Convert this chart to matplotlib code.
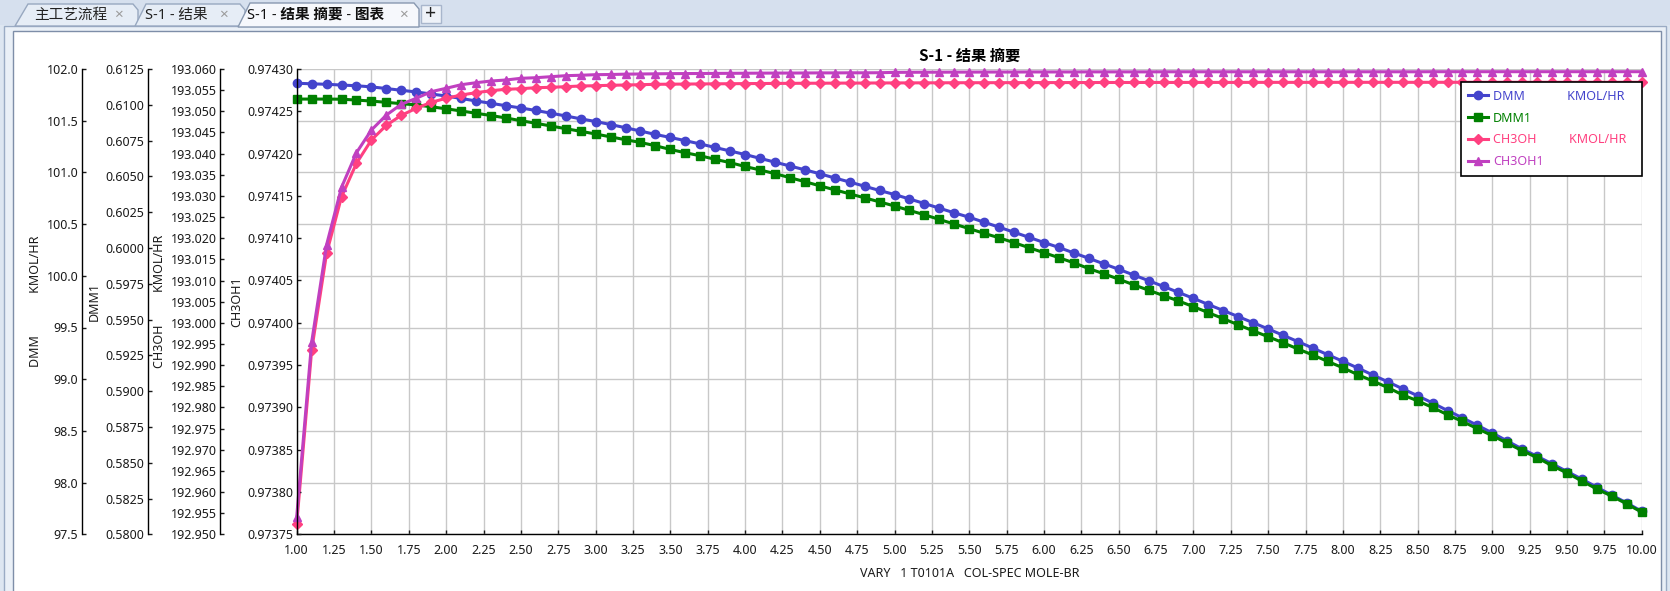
import numpy as np
import matplotlib
matplotlib.use('Agg')
import matplotlib.pyplot as plt
from matplotlib.patches import Rectangle, Polygon
from matplotlib.ticker import FormatStrFormatter

plt.rcParams['font.family'] = ['Noto Sans', 'Noto Sans CJK SC', 'DejaVu Sans']

W, H = 1670, 591

# ---- data ----
vary = np.round(np.linspace(1.0, 10.0, 91), 1)

dmm = [101.862, 101.857, 101.852, 101.845, 101.838, 101.827, 101.811, 101.794, 101.778, 101.758, 101.739,
       101.715, 101.691, 101.668, 101.645, 101.623, 101.599, 101.573, 101.546, 101.518, 101.492,
       101.463, 101.432, 101.400, 101.367, 101.338, 101.307, 101.275, 101.241, 101.207, 101.173,
       101.136, 101.099, 101.062, 101.025, 100.987, 100.946, 100.907, 100.866, 100.825, 100.786,
       100.743, 100.699, 100.654, 100.609, 100.566, 100.518, 100.470, 100.421, 100.372, 100.322,
       100.274, 100.221, 100.169, 100.116, 100.063, 100.008, 99.953, 99.897, 99.839, 99.782,
       99.722, 99.664, 99.605, 99.546, 99.486, 99.425, 99.363, 99.300, 99.236, 99.173,
       99.108, 99.041, 98.975, 98.907, 98.840, 98.770, 98.697, 98.626, 98.554, 98.480,
       98.402, 98.325, 98.254, 98.182, 98.107, 98.033, 97.955, 97.878, 97.803, 97.722]

dmm1 = [0.61040, 0.61040, 0.61040, 0.61039, 0.61033, 0.61026, 0.61017, 0.61008, 0.60999, 0.60986, 0.60972,
        0.60957, 0.60941, 0.60925, 0.60908, 0.60889, 0.60871, 0.60852, 0.60833, 0.60815, 0.60796,
        0.60776, 0.60756, 0.60737, 0.60714, 0.60688, 0.60665, 0.60644, 0.60619, 0.60596, 0.60569,
        0.60545, 0.60519, 0.60491, 0.60463, 0.60434, 0.60406, 0.60378, 0.60350, 0.60322, 0.60293,
        0.60262, 0.60232, 0.60199, 0.60167, 0.60135, 0.60102, 0.60071, 0.60037, 0.60002, 0.59967,
        0.59932, 0.59896, 0.59856, 0.59820, 0.59782, 0.59743, 0.59705, 0.59667, 0.59630, 0.59590,
        0.59548, 0.59506, 0.59463, 0.59421, 0.59380, 0.59338, 0.59294, 0.59252, 0.59207, 0.59163,
        0.59115, 0.59071, 0.59025, 0.58974, 0.58932, 0.58886, 0.58835, 0.58788, 0.58738, 0.58689,
        0.58636, 0.58584, 0.58535, 0.58479, 0.58428, 0.58372, 0.58316, 0.58266, 0.58212, 0.58154]

ch3oh = [192.95243, 192.99350, 193.01643, 193.02981, 193.03771, 193.04322, 193.04669, 193.04905, 193.05071, 193.05213, 193.05307,
         193.05385, 193.05440, 193.05487, 193.05520, 193.05534, 193.05558, 193.05567, 193.05582, 193.05598, 193.05605,
         193.05615, 193.05622, 193.05629, 193.05638, 193.05641, 193.05644, 193.05647, 193.05650, 193.05652, 193.05655,
         193.05657, 193.05659, 193.05661, 193.05663, 193.05664, 193.05666, 193.05667, 193.05668, 193.05670, 193.05671,
         193.05672, 193.05673, 193.05674, 193.05675, 193.05676, 193.05676, 193.05677, 193.05678, 193.05678, 193.05679,
         193.05679, 193.05680, 193.05680, 193.05681, 193.05681, 193.05681, 193.05682, 193.05682, 193.05682, 193.05683,
         193.05683, 193.05683, 193.05683, 193.05684, 193.05684, 193.05684, 193.05684, 193.05684, 193.05684, 193.05685,
         193.05685, 193.05685, 193.05685, 193.05685, 193.05685, 193.05685, 193.05686, 193.05686, 193.05686, 193.05686,
         193.05686, 193.05686, 193.05686, 193.05686, 193.05686, 193.05686, 193.05686, 193.05686, 193.05686, 193.05686]

ch3oh1 = [0.9737708, 0.9739770, 0.9740923, 0.9741602, 0.9742011, 0.9742279, 0.9742456, 0.9742583, 0.9742654, 0.9742732, 0.9742772,
          0.9742814, 0.9742838, 0.9742858, 0.9742870, 0.9742890, 0.9742897, 0.9742909, 0.9742921, 0.9742926, 0.9742933,
          0.9742935, 0.9742939, 0.9742941, 0.9742943, 0.9742945, 0.9742946, 0.9742947, 0.9742948, 0.9742949, 0.9742950,
          0.9742951, 0.9742952, 0.9742952, 0.9742953, 0.9742954, 0.9742954, 0.9742955, 0.9742955, 0.9742956, 0.9742960,
          0.9742961, 0.9742962, 0.9742962, 0.9742963, 0.9742963, 0.9742964, 0.9742964, 0.9742964, 0.9742965, 0.9742965,
          0.9742965, 0.9742965, 0.9742966, 0.9742966, 0.9742966, 0.9742966, 0.9742966, 0.9742967, 0.9742967, 0.9742967,
          0.9742967, 0.9742967, 0.9742967, 0.9742967, 0.9742967, 0.9742967, 0.9742967, 0.9742967, 0.9742967, 0.9742967,
          0.9742967, 0.9742967, 0.9742967, 0.9742967, 0.9742967, 0.9742968, 0.9742968, 0.9742968, 0.9742968, 0.9742968,
          0.9742968, 0.9742968, 0.9742968, 0.9742968, 0.9742968, 0.9742968, 0.9742968, 0.9742968, 0.9742968, 0.9742968]

# axis ranges / tick counts
dmm_range, dmm_n = (97.5, 102.0), 9
dmm1_range, dmm1_n = (0.58, 0.6125), 13
ch3oh_range, ch3oh_n = (192.95, 193.06), 22
ch3oh1_range, ch3oh1_n = (0.97375, 0.97430), 11

tabs = ['主工艺流程', 'S-1 - 结果', 'S-1 - 结果 摘要 - 图表']

fig = plt.figure(figsize=(W / 100, H / 100), dpi=100)
fig.patch.set_facecolor('#d6e0ee')


def rect(x0, y0, x1, y1, **kw):
    r = Rectangle((x0 / W, 1 - y1 / H), (x1 - x0) / W, (y1 - y0) / H,
                  transform=fig.transFigure, **kw)
    fig.patches.append(r)


def poly(pts, **kw):
    p = Polygon([(x / W, 1 - y / H) for x, y in pts], closed=True,
                transform=fig.transFigure, **kw)
    fig.patches.append(p)


# window frame
rect(0, 25, 1670, 591, facecolor='#dde6f1', edgecolor='none', zorder=-10)
rect(4, 26, 1666, 595, facecolor='#eaf0f7', edgecolor='#9aabc4', lw=1, zorder=-9)
rect(13, 31, 1661, 595, facecolor='white', edgecolor='#7e8ea8', lw=1, zorder=-8)

# tabs
poly([(15, 26), (28, 4), (133, 4), (138, 10), (138, 26)],
     facecolor='#e6edf6', edgecolor='#98a8c0', lw=1, zorder=-7)
poly([(135, 26), (146, 4), (240, 4), (245, 10), (245, 26)],
     facecolor='#e6edf6', edgecolor='#98a8c0', lw=1, zorder=-7)
poly([(238, 27), (250, 3), (414, 3), (419, 9), (419, 27)],
     facecolor='#f6f8fc', edgecolor='#8898b0', lw=1, zorder=-6)
rect(421, 5, 441, 23, facecolor='#eef2f8', edgecolor='#a8b6cc', lw=1, zorder=-6)

ty = 1 - 15 / H
fig.text(34 / W, ty, tabs[0], fontsize=10.5, va='center', ha='left', color='#222222')
fig.text(118 / W, ty, '×', fontsize=11, va='center', ha='center', color='#9a9a9a')
fig.text(145 / W, ty, tabs[1], fontsize=10.5, va='center', ha='left', color='#222222')
fig.text(223 / W, ty, '×', fontsize=11, va='center', ha='center', color='#9a9a9a')
fig.text(247 / W, ty, tabs[2], fontsize=10.5, va='center', ha='left',
         color='#111111', fontweight='bold')
fig.text(403 / W, ty, '×', fontsize=11, va='center', ha='center', color='#9a9a9a')
fig.text(431 / W, 1 - 14 / H, '+', fontsize=14, va='center', ha='center',
         color='#222222', fontweight='bold')

# ---- chart ----
x0, x1, ytop, ybot = 296.7, 1641.8, 69.0, 534.3
ax = fig.add_axes([x0 / W, 1 - ybot / H, (x1 - x0) / W, (ybot - ytop) / H])
ax.set_facecolor('white')


def setup_axis(a, rng, n, fmt, label, offset_px):
    a.set_ylim(*rng)
    a.set_yticks(np.linspace(rng[0], rng[1], n + 1))
    a.yaxis.set_major_formatter(FormatStrFormatter(fmt))
    a.yaxis.tick_left()
    a.yaxis.set_label_position('left')
    a.spines['left'].set_position(('outward', offset_px * 0.72))
    a.spines['left'].set_visible(True)
    a.spines['left'].set_linewidth(1)
    for s in ('right', 'top'):
        a.spines[s].set_visible(False)
    a.tick_params(axis='y', direction='in', length=3, width=1,
                  labelsize=9, pad=2.5, colors='#1a1a1a')
    a.set_ylabel(label, fontsize=9, labelpad=3, color='#1a1a1a')


c_dmm, c_dmm1, c_ch, c_ch1 = '#4444cc', '#008000', '#ff4080', '#c040c0'

l1, = ax.plot(vary, dmm, color=c_dmm, marker='o', ms=6, lw=2.2, clip_on=False, zorder=3)
setup_axis(ax, dmm_range, dmm_n, '%.1f', 'DMM' + ' ' * 13 + 'KMOL/HR', 215)
ax.grid(True, color='#c8c8c8', lw=1)

ax_b = ax.twinx()
l2, = ax_b.plot(vary, dmm1, color=c_dmm1, marker='s', ms=6, lw=2.2, clip_on=False)
setup_axis(ax_b, dmm1_range, dmm1_n, '%.4f', 'DMM1', 149)
ax_b.spines['bottom'].set_visible(False)

ax_c = ax.twinx()
l3, = ax_c.plot(vary, ch3oh, color=c_ch, marker='D', ms=5, lw=2.2, clip_on=False)
setup_axis(ax_c, ch3oh_range, ch3oh_n, '%.3f', 'CH3OH' + ' ' * 10 + 'KMOL/HR', 76.7)
ax_c.spines['bottom'].set_visible(False)

ax_d = ax.twinx()
l4, = ax_d.plot(vary, ch3oh1, color=c_ch1, marker='^', ms=6, lw=2.2, clip_on=False)
setup_axis(ax_d, ch3oh1_range, ch3oh1_n, '%.5f', 'CH3OH1', 0)
ax_d.spines['bottom'].set_visible(False)

ax.set_xlim(1.0, 10.0)
ax.set_xticks(np.arange(1.0, 10.01, 0.25))
ax.xaxis.set_major_formatter(FormatStrFormatter('%.2f'))
ax.tick_params(axis='x', direction='in', length=3, width=1, labelsize=9,
               pad=7, colors='#1a1a1a')
ax.spines['bottom'].set_linewidth(1)
ax.set_xlabel('VARY   1 T0101A   COL-SPEC MOLE-BR', fontsize=9, labelpad=7,
              color='#1a1a1a')
ax.set_title('S-1 - 结果 摘要', fontsize=11, fontweight='bold', pad=6,
             family=['Noto Sans CJK SC', 'DejaVu Sans'])

leg = ax_d.legend([l1, l2, l3, l4],
                  ['DMM' + ' ' * 13 + 'KMOL/HR   ', 'DMM1',
                   'CH3OH' + ' ' * 10 + 'KMOL/HR', 'CH3OH1'],
                  loc='upper right', bbox_to_anchor=(1.0, 0.9714),
                  bbox_transform=ax.transAxes, borderaxespad=0,
                  fontsize=9, handlelength=1.6, handletextpad=0.4,
                  labelspacing=0.7, borderpad=0.6, fancybox=False,
                  framealpha=1, edgecolor='black', labelcolor='linecolor')
leg.get_frame().set_linewidth(1.2)

fig.savefig('out.png', dpi=100, facecolor=fig.get_facecolor())
